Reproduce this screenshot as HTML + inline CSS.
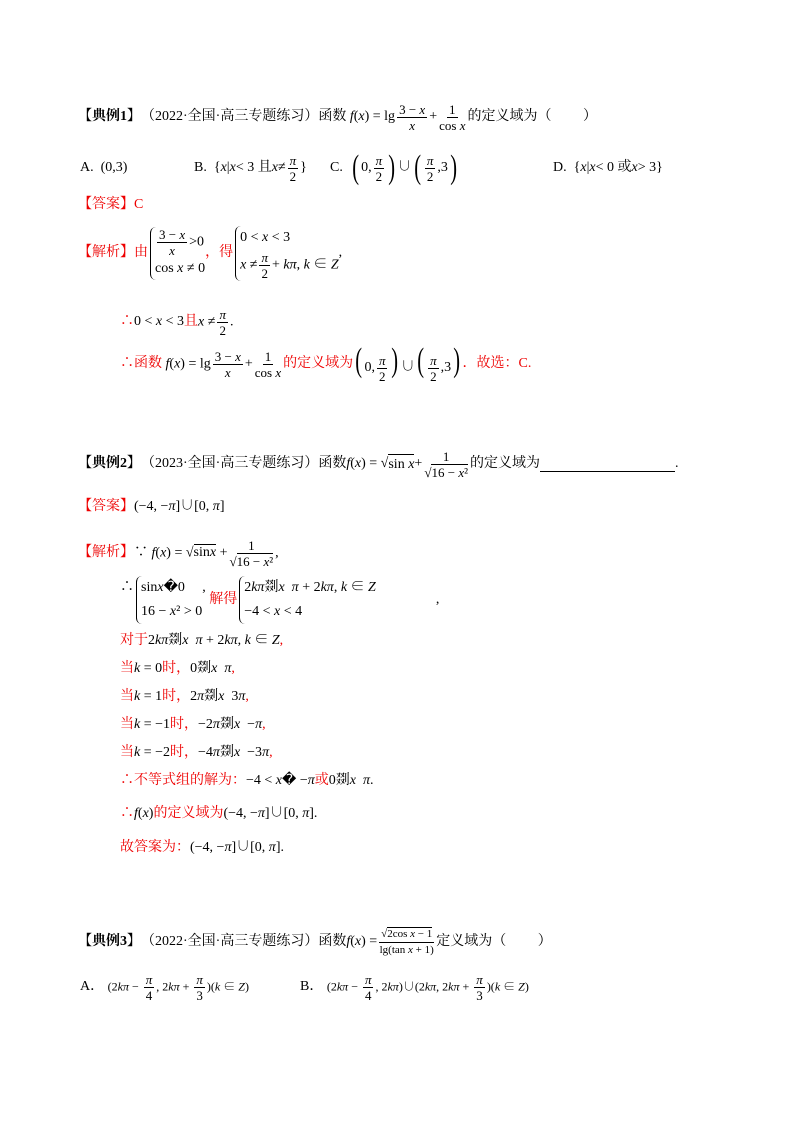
<!DOCTYPE html>
<html><head><meta charset="utf-8"><style>
body{margin:0;background:#fff;width:800px;height:1132px;position:relative;overflow:hidden;font-family:"Liberation Serif","Noto Serif CJK SC","Noto Sans CJK SC",serif;font-size:14px;color:#000}
.l{position:absolute;white-space:nowrap;line-height:20px;height:20px;display:flex;align-items:center}
.r{color:#e00}
.b{font-weight:bold}
i{font-style:italic}
.f{display:inline-flex;flex-direction:column;align-items:center;vertical-align:middle;margin:0 2px;font-size:13px;line-height:15px}
.f>span:first-child{border-bottom:1px solid #000;padding:0 2px}
.br{font-size:34px;font-weight:100;transform:scaleX(.6);display:inline-block;line-height:34px}
.cs{display:inline-flex;flex-direction:column;border-left:1px solid #000;border-radius:6px 0 0 6px;padding-left:4px;margin-left:2px;line-height:24px}
.blk{color:#000}
</style></head><body>

<div class="l" style="left:78px;top:107px"><span class="b">【典例1】</span>（2022·全国·高三专题练习）函数<i>&nbsp;f</i>(<i>x</i>) = lg<span class="f"><span>3 − <i>x</i></span><span><i>x</i></span></span>+<span class="f"><span>1</span><span>cos <i>x</i></span></span>的定义域为（　　&nbsp;）</div>

<div class="l" style="left:80px;top:158px">A.&nbsp;&nbsp;(0,3)</div>
<div class="l" style="left:194px;top:158px">B.&nbsp;&nbsp;{<i>x</i>|<i>x</i> &lt; 3 且 <i>x</i> ≠<span class="f"><span><i>π</i></span><span>2</span></span>}</div>
<div class="l" style="left:330px;top:158px">C.&nbsp;&nbsp;<span class="br">(</span>0,<span class="f"><span><i>π</i></span><span>2</span></span><span class="br">)</span>∪<span class="br">(</span><span class="f"><span><i>π</i></span><span>2</span></span>,3<span class="br">)</span></div>
<div class="l" style="left:553px;top:158px">D.&nbsp;&nbsp;{<i>x</i>|<i>x</i> &lt; 0 或 <i>x</i> &gt; 3}</div>

<div class="l r" style="left:78px;top:195px">【答案】C</div>

<div class="l r" style="left:78px;top:243px">【解析】由<span class="cs blk" style="line-height:22px"><span><span class="f"><span>3 − <i>x</i></span><span><i>x</i></span></span>&gt;0</span><span>cos <i>x</i> ≠ 0</span></span>，得<span class="cs blk"><span>0 &lt; <i>x</i> &lt; 3</span><span><i>x</i> ≠<span class="f"><span><i>π</i></span><span>2</span></span>+ <i>kπ</i>, <i>k</i> ∈ <i>Z</i></span></span><span class="blk">,</span></div>

<div class="l r" style="left:120px;top:312px">∴ <span class="blk">0 &lt; <i>x</i> &lt; 3</span> 且 <span class="blk"><i>x</i> ≠<span class="f"><span><i>π</i></span><span>2</span></span>.</span></div>

<div class="l r" style="left:120px;top:354px">∴函数<span class="blk">&nbsp;<i>f</i>(<i>x</i>) = lg<span class="f"><span>3 − <i>x</i></span><span><i>x</i></span></span>+<span class="f"><span>1</span><span>cos <i>x</i></span></span></span>的定义域为<span class="blk"><span class="br">(</span>0,<span class="f"><span><i>π</i></span><span>2</span></span><span class="br">)</span>∪<span class="br">(</span><span class="f"><span><i>π</i></span><span>2</span></span>,3<span class="br">)</span></span>．故选：C.</div>

<div class="l" style="left:78px;top:454px"><span class="b">【典例2】</span>（2023·全国·高三专题练习）函数 <i>f</i>(<i>x</i>) = √<span style="border-top:1px solid #000">sin <i>x</i></span> +<span class="f"><span>1</span><span>√<span style="border-top:1px solid #000">16 − <i>x</i>²</span></span></span>的定义域为<span style="display:inline-block;width:135px;border-bottom:1px solid #000;height:14px"></span>.</div>

<div class="l r" style="left:78px;top:497px">【答案】<span class="blk">(−4, −<i>π</i>]∪[0, <i>π</i>]</span></div>

<div class="l r" style="left:78px;top:543px">【解析】<span class="blk">∵ <i>f</i>(<i>x</i>) = √<span style="border-top:1px solid #000">sin<i>x</i></span> +<span class="f"><span>1</span><span>√<span style="border-top:1px solid #000">16 − <i>x</i>²</span></span></span>,</span></div>

<div class="l r" style="left:120px;top:590px"><span class="blk">∴<span class="cs"><span>sin<i>x</i>�0</span><span>16 − <i>x</i>² &gt; 0</span></span>,</span>&nbsp;解得<span class="cs blk"><span>2<i>kπ</i>剟<i>x</i>&nbsp; <i>π</i> + 2<i>kπ</i>, <i>k</i> ∈ <i>Z</i></span><span>−4 &lt; <i>x</i> &lt; 4</span></span><span class="blk" style="margin-left:60px">,</span></div>

<div class="l r" style="left:120px;top:631px">对于 <span class="blk">2<i>kπ</i>剟<i>x</i>&nbsp; <i>π</i> + 2<i>kπ</i>, <i>k</i> ∈ <i>Z</i></span>,</div>
<div class="l r" style="left:120px;top:659px">当 <span class="blk"><i>k</i> = 0</span> 时，<span class="blk">0剟<i>x</i>&nbsp; <i>π</i></span>,</div>
<div class="l r" style="left:120px;top:687px">当 <span class="blk"><i>k</i> = 1</span> 时，<span class="blk">2<i>π</i>剟<i>x</i>&nbsp; 3<i>π</i></span>,</div>
<div class="l r" style="left:120px;top:715px">当 <span class="blk"><i>k</i> = −1</span> 时，<span class="blk">−2<i>π</i>剟<i>x</i>&nbsp; −<i>π</i></span>,</div>
<div class="l r" style="left:120px;top:743px">当 <span class="blk"><i>k</i> = −2</span> 时，<span class="blk">−4<i>π</i>剟<i>x</i>&nbsp; −3<i>π</i></span>,</div>
<div class="l r" style="left:120px;top:771px">∴不等式组的解为：<span class="blk">−4 &lt; <i>x</i>� −<i>π</i></span> 或 <span class="blk">0剟<i>x</i>&nbsp; <i>π</i>.</span></div>
<div class="l r" style="left:120px;top:804px">∴ <span class="blk"><i>f</i>(<i>x</i>)</span>的定义域为<span class="blk">(−4, −<i>π</i>]∪[0, <i>π</i>].</span></div>
<div class="l r" style="left:120px;top:838px">故答案为：<span class="blk">(−4, −<i>π</i>]∪[0, <i>π</i>].</span></div>

<div class="l" style="left:78px;top:932px"><span class="b">【典例3】</span>（2022·全国·高三专题练习）函数 <i>f</i>(<i>x</i>) =<span class="f" style="font-size:11px"><span>√<span style="border-top:1px solid #000">2cos <i>x</i> − 1</span></span><span>lg(tan <i>x</i> + 1)</span></span>定义域为（　　&nbsp;）</div>

<div class="l" style="left:80px;top:977px">A．&nbsp;<span style="font-size:12px">(2<i>kπ</i> − <span class="f"><span><i>π</i></span><span>4</span></span>, 2<i>kπ</i> + <span class="f"><span><i>π</i></span><span>3</span></span>)(<i>k</i> ∈ <i>Z</i>)</span></div>
<div class="l" style="left:300px;top:977px">B．&nbsp;<span style="font-size:12px">(2<i>kπ</i> − <span class="f"><span><i>π</i></span><span>4</span></span>, 2<i>kπ</i>)∪(2<i>kπ</i>, 2<i>kπ</i> + <span class="f"><span><i>π</i></span><span>3</span></span>)(<i>k</i> ∈ <i>Z</i>)</span></div>

</body></html>
